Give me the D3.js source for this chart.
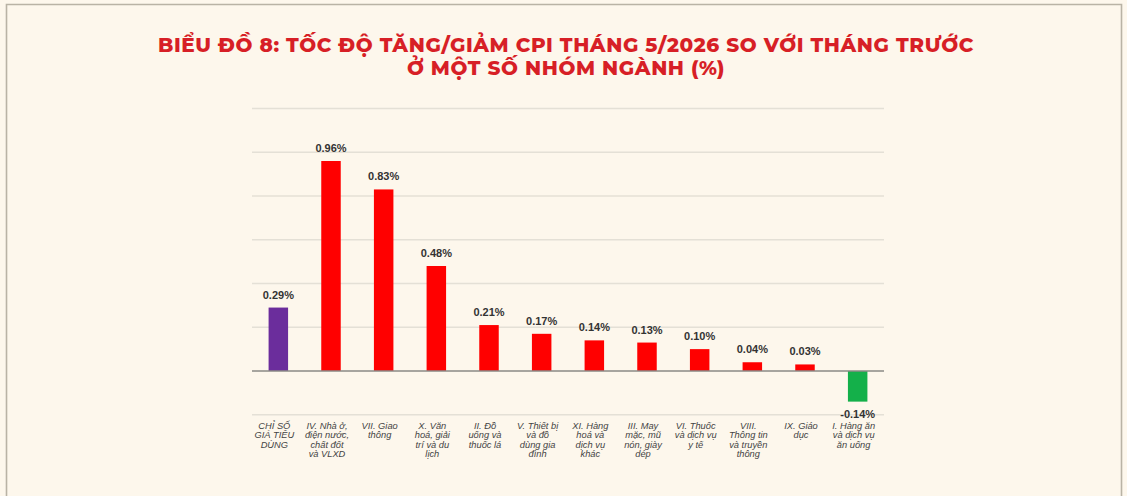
<!DOCTYPE html>
<html>
<head>
<meta charset="utf-8">
<script src="https://cdn.jsdelivr.net/npm/d3@7"></script>
<style>
  body { margin: 0; background: #fdf7ec; }
  svg { display: block; }
</style>
</head>
<body>
<div class="chart"></div>
<script>
// data
const categories = [
  ['CHỈ SỐ', 'GIÁ TIÊU', 'DÙNG'],
  ['IV. Nhà ở,', 'điện nước,', 'chất đốt', 'và VLXD'],
  ['VII. Giao', 'thông'],
  ['X. Văn', 'hoá, giải', 'trí và du', 'lịch'],
  ['II. Đồ', 'uống và', 'thuốc lá'],
  ['V. Thiết bị', 'và đồ', 'dùng gia', 'đình'],
  ['XI. Hàng', 'hoá và', 'dịch vụ', 'khác'],
  ['III. May', 'mặc, mũ', 'nón, giày', 'dép'],
  ['VI. Thuốc', 'và dịch vụ', 'y tế'],
  ['VIII.', 'Thông tin', 'và truyền', 'thông'],
  ['IX. Giáo', 'dục'],
  ['I. Hàng ăn', 'và dịch vụ', 'ăn uống']
];
const values = [0.29, 0.96, 0.83, 0.48, 0.21, 0.17, 0.14, 0.13, 0.10, 0.04, 0.03, -0.14];
const gridTicks = [-0.2, 0.2, 0.4, 0.6, 0.8, 1.0, 1.2];
const titleLines = [
  'BIỂU ĐỒ 8: TỐC ĐỘ TĂNG/GIẢM CPI THÁNG 5/2026 SO VỚI THÁNG TRƯỚC',
  'Ở MỘT SỐ NHÓM NGÀNH (%)'
];

const w = 1127, h = 496;

const svg = d3.select('.chart')
  .append('svg')
  .attr('width', w)
  .attr('height', h);

svg.append('rect')
  .attr('width', w)
  .attr('height', h)
  .attr('fill', '#fdf7ec');

// frame
svg.append('path')
  .attr('d', `M6.5,${h} V4.5 H1121.5 V${h}`)
  .attr('fill', 'none')
  .attr('stroke', '#b9b3a5')
  .attr('stroke-width', 1.6);

svg.selectAll('.title')
  .data(titleLines)
  .enter()
  .append('text')
  .attr('class', 'title')
  .attr('x', 566)
  .attr('y', (d, i) => 52 + i * 23)
  .attr('text-anchor', 'middle')
  .style('font-family', 'Montserrat, "Open Sans", sans-serif')
  .style('font-weight', 800)
  .style('font-size', '20px')
  .style('letter-spacing', '0.6px')
  .style('fill', '#d71f26')
  .text(d => d);

const x = d3.scaleBand()
  .domain(d3.range(categories.length))
  .range([252, 884])
  .paddingInner(0.63)
  .paddingOuter(0.315);

const y = d3.scaleLinear()
  .domain([0, 1.2])
  .range([371, 108.5]);

// gridlines
svg.selectAll('.grid')
  .data(gridTicks)
  .enter()
  .append('line')
  .attr('class', 'grid')
  .attr('x1', 252)
  .attr('x2', 884)
  .attr('y1', d => y(d))
  .attr('y2', d => y(d))
  .attr('stroke', '#e4e0d6')
  .attr('stroke-width', 1.3);

const colorOf = (d, i) => i === 0 ? '#6b2d9c' : (d < 0 ? '#14b04a' : '#ff0000');

svg.selectAll('.bar')
  .data(values)
  .enter()
  .append('rect')
  .attr('class', 'bar')
  .attr('x', (d, i) => x(i))
  .attr('width', x.bandwidth())
  .attr('y', d => y(Math.max(0, d)))
  .attr('height', d => Math.abs(y(d) - y(0)))
  .attr('fill', colorOf);

// zero axis
svg.append('line')
  .attr('x1', 252)
  .attr('x2', 884)
  .attr('y1', y(0))
  .attr('y2', y(0))
  .attr('stroke', '#8a8a86')
  .attr('stroke-width', 1.4);

// value labels
svg.selectAll('.val')
  .data(values)
  .enter()
  .append('text')
  .attr('class', 'val')
  .attr('x', (d, i) => x(i) + x.bandwidth() / 2)
  .attr('y', d => d >= 0 ? y(d) - 9 : y(d) + 16)
  .attr('text-anchor', 'middle')
  .style('font-family', '"Liberation Sans", Arial, sans-serif')
  .style('font-weight', 'bold')
  .style('font-size', '11px')
  .style('fill', '#333')
  .text(d => d.toFixed(2) + '%');

// category labels
const cat = svg.selectAll('.cat')
  .data(categories)
  .enter()
  .append('text')
  .attr('class', 'cat')
  .attr('text-anchor', 'middle')
  .style('font-family', '"Liberation Sans", Arial, sans-serif')
  .style('font-style', 'italic')
  .style('font-size', '9.3px')
  .style('fill', '#444');

cat.selectAll('tspan')
  .data((d, i) => d.map(t => ({t, i})))
  .enter()
  .append('tspan')
  .attr('x', d => x(d.i) + x.bandwidth() / 2 - 4)
  .attr('y', (d, j) => 429 + j * 9.3)
  .text(d => d.t);
</script>
</body>
</html>
